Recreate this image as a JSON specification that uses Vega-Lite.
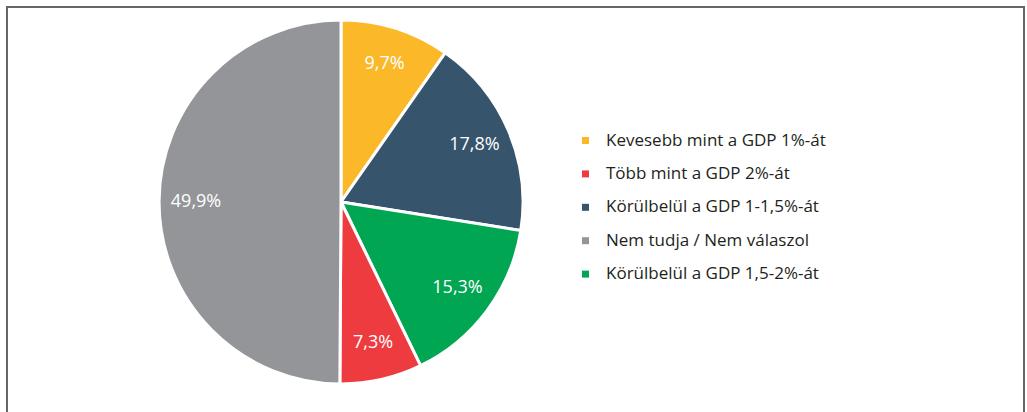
{
  "$schema": "https://vega.github.io/schema/vega-lite/v6.json",
  "autosize": {"type": "fit", "contains": "padding"},
  "width": 1027,
  "height": 412,
  "padding": {"left": 6, "top": 6, "right": 2, "bottom": -10},
  "background": "white",
  "config": {
    "view": {"stroke": null},
    "font": "Open Sans"
  },
  "data": {
    "values": [
      {"cat": "Kevesebb mint a GDP 1%-át", "value": 9.7, "label": "9,7%", "ord": 1},
      {"cat": "Körülbelül a GDP 1-1,5%-át", "value": 17.8, "label": "17,8%", "ord": 2},
      {"cat": "Körülbelül a GDP 1,5-2%-át", "value": 15.3, "label": "15,3%", "ord": 3},
      {"cat": "Több mint a GDP 2%-át", "value": 7.3, "label": "7,3%", "ord": 4},
      {"cat": "Nem tudja / Nem válaszol", "value": 49.9, "label": "49,9%", "ord": 5}
    ]
  },
  "layer": [
    {
      "data": {"values": [{"frame": 1}]},
      "mark": {"type": "rect", "x": 0, "y": 0, "x2": "width", "y2": "height", "fill": "white", "fillOpacity": 0, "stroke": "#666666", "strokeWidth": 2},
      "encoding": {}
    },
    {
      "mark": {"type": "arc", "outerRadius": 182, "x": 334, "y": 195, "stroke": "white", "strokeWidth": 3},
      "encoding": {
        "theta": {"field": "value", "type": "quantitative", "stack": true},
        "order": {"field": "ord", "type": "quantitative"},
        "color": {
          "field": "cat",
          "type": "nominal",
          "scale": {
            "domain": ["Kevesebb mint a GDP 1%-át", "Több mint a GDP 2%-át", "Körülbelül a GDP 1-1,5%-át", "Nem tudja / Nem válaszol", "Körülbelül a GDP 1,5-2%-át"],
            "range": ["#FBB829", "#EE3B3F", "#36546C", "#939598", "#00A651"]
          },
          "legend": {
            "title": null,
            "orient": "none",
            "legendX": 570,
            "legendY": 125,
            "padding": 0,
            "symbolType": "square",
            "symbolSize": 49,
            "symbolStrokeWidth": 0,
            "symbolOpacity": 1,
            "labelFontSize": 17,
            "labelFont": "Open Sans",
            "labelColor": "#231F20",
            "labelOffset": 12,
            "labelLimit": 400,
            "rowPadding": 15.4
          }
        }
      }
    },
    {
      "mark": {"type": "text", "radius": 145, "x": 334, "y": 195, "color": "white", "fontSize": 18, "font": "Open Sans"},
      "encoding": {
        "theta": {"field": "value", "type": "quantitative", "stack": true},
        "order": {"field": "ord", "type": "quantitative"},
        "text": {"field": "label"}
      }
    }
  ]
}
